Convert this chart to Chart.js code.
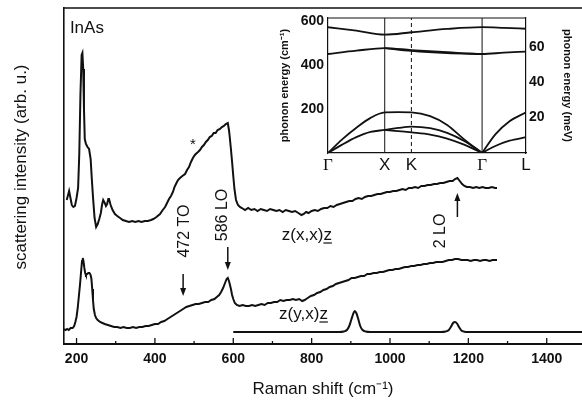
<!DOCTYPE html>
<html>
<head>
<meta charset="utf-8">
<script src="https://cdn.jsdelivr.net/npm/chart.js@4.4.1/dist/chart.umd.min.js"></script>
<style>
  html, body { margin: 0; padding: 0; background: #fff; }
  #wrap { position: relative; width: 582px; height: 403px; overflow: hidden; }
  #wrap canvas { position: absolute; left: 0; top: 0; }
</style>
</head>
<body>
<div id="wrap">
  <canvas id="spectra" width="582" height="403"></canvas>
  <canvas id="dispersion" width="582" height="403"></canvas>
</div>
<script>
// z(x,x)z spectrum (upper trace)
const xxShift = [175, 179, 181, 184, 188, 192, 196, 200, 204, 207, 210, 213, 215, 217, 219, 221, 224, 228, 232, 236,
  239, 242, 246, 250, 254, 258, 262, 265, 268, 272, 275, 278, 281, 283, 287, 292, 298, 304, 311, 318,
  326, 334, 342, 350, 358, 366, 374, 382, 390, 396, 404, 413, 420, 426, 431, 436, 441, 446, 450, 455,
  459, 464, 470, 477, 482, 487, 492, 497, 502, 507, 510, 515, 520, 525, 530, 535, 540, 545, 550, 555,
  560, 566, 571, 576, 581, 586, 589, 591, 594, 597, 600, 603, 607, 612, 617, 622, 630, 638, 646, 654,
  662, 670, 678, 686, 694, 702, 710, 718, 726, 734, 742, 750, 758, 766, 774, 780, 786, 792, 800, 808,
  816, 824, 832, 840, 848, 856, 864, 872, 880, 888, 896, 904, 912, 920, 928, 936, 944, 952, 960, 968,
  976, 984, 992, 1000, 1008, 1016, 1024, 1032, 1040, 1048, 1056, 1064, 1072, 1080, 1088, 1096, 1104, 1112, 1120, 1128,
  1136, 1144, 1152, 1160, 1166, 1172, 1178, 1184, 1190, 1196, 1204, 1212, 1220, 1228, 1236, 1244, 1252, 1260, 1268, 1273];
const xxIntensity = [144, 150, 153, 147, 139, 137, 138, 146, 156, 190, 250, 289, 291, 275, 235, 205, 200, 197, 195, 185,
  165, 147, 126, 117, 120, 125, 131, 139, 144, 141, 138, 140, 145, 145, 139, 134, 130, 128, 126, 124,
  123, 122, 123, 122, 123, 122, 123, 123, 124, 125, 127, 130, 134, 137, 141, 145, 148, 152, 157, 161,
  164, 166, 168, 170, 174, 177, 182, 186, 189, 191, 192, 194, 197, 199, 202, 204, 207, 208, 211, 211,
  214, 215, 217, 218, 220, 221, 214, 207, 195, 182, 168, 155, 144, 139, 137, 136, 134, 136, 134, 135,
  133, 135, 134, 133, 135, 134, 133, 134, 132, 134, 133, 132, 133, 131, 129, 130, 132, 131, 133, 134,
  133, 135, 136, 136, 138, 137, 139, 140, 141, 142, 143, 143, 145, 146, 145, 147, 148, 148, 149, 150,
  150, 151, 152, 152, 153, 153, 154, 155, 154, 156, 156, 157, 156, 158, 158, 159, 159, 160, 160, 161,
  161, 162, 163, 163, 165, 166, 163, 160, 158, 157, 157, 156, 157, 156, 157, 156, 156, 157, 156, 156];

// z(y,x)z spectrum (lower trace)
const yxShift = [168, 172, 176, 180, 185, 190, 194, 197, 200, 203, 206, 209, 212, 214, 216, 218, 220, 222, 224, 227,
  230, 233, 236, 238, 240, 242, 244, 247, 250, 254, 260, 266, 272, 280, 288, 296, 304, 312, 320, 328,
  336, 344, 352, 360, 368, 376, 384, 392, 400, 408, 416, 424, 432, 440, 448, 456, 464, 472, 480, 488,
  496, 504, 512, 520, 528, 536, 544, 552, 558, 564, 569, 574, 579, 583, 586, 589, 591, 594, 597, 600,
  604, 609, 616, 624, 632, 640, 648, 656, 664, 672, 680, 688, 696, 704, 712, 720, 728, 736, 744, 752,
  760, 768, 776, 782, 790, 798, 806, 814, 822, 830, 838, 846, 854, 862, 870, 878, 886, 894, 902, 910,
  918, 926, 934, 942, 950, 958, 966, 974, 982, 990, 998, 1006, 1014, 1022, 1030, 1038, 1046, 1054, 1062, 1070,
  1078, 1086, 1094, 1102, 1110, 1118, 1126, 1134, 1142, 1150, 1158, 1166, 1174, 1182, 1190, 1198, 1206, 1214, 1222, 1230,
  1238, 1246, 1254, 1262, 1270, 1273];
const yxIntensity = [15, 14, 15, 14, 16, 16, 18, 22, 27, 36, 48, 60, 74, 83, 86, 82, 76, 71, 69, 70,
  71, 71, 69, 65, 55, 44, 35, 29, 26, 24, 22, 21, 20, 19, 18, 17, 17, 16, 17, 16,
  16, 17, 16, 17, 17, 18, 18, 19, 20, 20, 22, 23, 25, 27, 29, 31, 33, 35, 37, 38,
  39, 40, 40, 41, 42, 42, 44, 45, 47, 49, 52, 56, 61, 65, 66, 63, 60, 55, 49, 45,
  41, 39, 38, 39, 38, 38, 39, 38, 39, 40, 39, 41, 41, 42, 42, 44, 43, 44, 44, 45,
  44, 45, 43, 44, 46, 48, 49, 51, 52, 54, 55, 57, 58, 60, 61, 62, 63, 64, 66, 66,
  67, 68, 68, 70, 70, 71, 71, 72, 72, 73, 74, 74, 75, 75, 76, 77, 77, 78, 78, 79,
  79, 80, 80, 81, 81, 82, 82, 82, 83, 84, 84, 85, 85, 84, 84, 84, 83, 84, 84, 83,
  84, 84, 83, 84, 84, 84];

// smooth (calculated) trace, 600 cm-1 upward
const calcShift = [600, 870, 882, 890, 896, 901, 906, 910, 914, 919, 924, 930, 938, 950,
  1130, 1142, 1150, 1156, 1161, 1166, 1171, 1176, 1182, 1190, 1200, 1490];
const calcIntensity = [12, 12, 12.5, 14, 18, 24, 30, 33, 31, 25, 18, 14, 12.5, 12,
  12, 12.5, 14, 17.5, 21, 22, 20.5, 17, 13.5, 12.3, 12, 12];

const shiftTicks = [200, 400, 600, 800, 1000, 1200, 1400];
const shiftMinor = [300, 500, 700, 900, 1100, 1300];

// inset: phonon dispersion along G-X-K-G-L
const pathTicks = [0, 1, 1.47, 2.716, 3.49];
const pathLabels = ['Γ', 'X', 'K', 'Γ', 'L'];
const symmetryLines = [1, 1.47, 2.716];
const energyTicks = [200, 400, 600];
const meVTicks = [20, 40, 60];
const CM_PER_MEV = 8.0655;

const loQ = [0, 0.5, 1, 1.47, 2.1, 2.716, 3.1, 3.49];
const loE = [573, 557, 539, 550, 565, 573, 570, 566];
const toQ = [0, 0.5, 1, 1.47, 2.1, 2.716, 3.1, 3.49];
const toE = [451, 466, 478, 469, 459, 451, 457, 462];
const to2Q = [1, 1.47, 2.1, 2.716];
const to2E = [478, 465, 455, 451];
const laQ = [0, 0.25, 0.5, 0.75, 1, 1.24, 1.47, 1.8, 2.1, 2.4, 2.716];
const laE = [0, 62, 115, 160, 185, 186, 185, 168, 128, 62, 0];
const taQ = [0, 0.25, 0.5, 0.75, 1, 1.24, 1.47, 1.8, 2.1, 2.4, 2.716];
const taE = [0, 38, 72, 96, 105, 114, 120, 113, 92, 55, 0];
const ta2Q = [1, 1.24, 1.47, 1.8, 2.1, 2.4, 2.716];
const ta2E = [105, 100, 94, 84, 66, 38, 0];
const laLQ = [2.716, 2.95, 3.2, 3.49];
const laLE = [0, 85, 145, 185];
const taLQ = [2.716, 2.95, 3.2, 3.49];
const taLE = [0, 32, 56, 72];

const INK = '#111';
const FONT = '"Liberation Sans", Arial, sans-serif';

const pts = (xs, ys) => xs.map((x, i) => ({ x, y: ys[i] }));

// labels and arrows of the main panel, placed in data units
const spectrumNotes = [
  { text: 'InAs', w: 183, v: 311, size: 17 },
  { text: '*', w: 497, v: 195, size: 15 },
  { text: '472 TO', w: 477, v: 113, size: 16, rotate: true },
  { text: '586 LO', w: 572, v: 129, size: 16, rotate: true },
  { text: '2 LO', w: 1130, v: 113, size: 16, rotate: true },
  { text: 'z(x,x)z', w: 724, v: 104, size: 17, underline: true },
  { text: 'z(y,x)z', w: 717, v: 25, size: 17, underline: true },
];
const spectrumArrows = [
  { w: 472, from: 70, to: 48 },
  { w: 586, from: 97, to: 74 },
  { w: 1172, from: 127, to: 151 },
];

const spectrumDecor = {
  id: 'spectrumDecor',
  afterDraw(chart) {
    const { ctx, chartArea: a, scales: { x, y } } = chart;
    ctx.save();
    ctx.strokeStyle = INK;
    ctx.fillStyle = INK;

    ctx.lineWidth = 1.5;
    ctx.beginPath();
    ctx.moveTo(a.left, a.top);
    ctx.lineTo(a.right, a.top);
    ctx.stroke();

    // ticks point into the plot
    ctx.lineWidth = 1.3;
    shiftTicks.forEach((t) => {
      const p = x.getPixelForValue(t);
      ctx.beginPath();
      ctx.moveTo(p, a.bottom);
      ctx.lineTo(p, a.bottom - 6);
      ctx.stroke();
    });
    shiftMinor.forEach((t) => {
      const p = x.getPixelForValue(t);
      ctx.beginPath();
      ctx.moveTo(p, a.bottom);
      ctx.lineTo(p, a.bottom - 3);
      ctx.stroke();
    });

    ctx.save();
    ctx.translate(21, (a.top + a.bottom) / 2 - 9);
    ctx.rotate(-Math.PI / 2);
    ctx.font = `17px ${FONT}`;
    ctx.textAlign = 'center';
    ctx.textBaseline = 'middle';
    ctx.fillText('scattering intensity (arb. u.)', 0, 0);
    ctx.restore();

    spectrumNotes.forEach((n) => {
      const px = x.getPixelForValue(n.w);
      const py = y.getPixelForValue(n.v);
      ctx.font = `${n.size}px ${FONT}`;
      if (n.rotate) {
        ctx.save();
        ctx.translate(px, py);
        ctx.rotate(-Math.PI / 2);
        ctx.textAlign = 'center';
        ctx.textBaseline = 'middle';
        ctx.fillText(n.text, 0, 0);
        ctx.restore();
        return;
      }
      ctx.textAlign = n.text === '*' ? 'center' : 'left';
      ctx.textBaseline = 'alphabetic';
      ctx.fillText(n.text, px, py);
      if (n.underline) {
        const full = ctx.measureText(n.text).width;
        const last = ctx.measureText(n.text.slice(-1)).width;
        ctx.lineWidth = 1.2;
        ctx.beginPath();
        ctx.moveTo(px + full - last, py + 3);
        ctx.lineTo(px + full, py + 3);
        ctx.stroke();
      }
    });

    ctx.lineWidth = 1.5;
    spectrumArrows.forEach((ar) => {
      const px = x.getPixelForValue(ar.w);
      const p0 = y.getPixelForValue(ar.from);
      const p1 = y.getPixelForValue(ar.to);
      const dir = Math.sign(p1 - p0);
      ctx.beginPath();
      ctx.moveTo(px, p0);
      ctx.lineTo(px, p1 - dir * 5);
      ctx.stroke();
      ctx.beginPath();
      ctx.moveTo(px, p1);
      ctx.lineTo(px - 3, p1 - dir * 8);
      ctx.lineTo(px + 3, p1 - dir * 8);
      ctx.closePath();
      ctx.fill();
    });
    ctx.restore();
  },
};

new Chart(document.getElementById('spectra'), {
  type: 'line',
  data: {
    datasets: [
      { label: 'z(x,x)z', data: pts(xxShift, xxIntensity) },
      { label: 'z(y,x)z', data: pts(yxShift, yxIntensity) },
      { label: 'calc', data: pts(calcShift, calcIntensity), cubicInterpolationMode: 'monotone' },
    ],
  },
  options: {
    responsive: false,
    animation: false,
    devicePixelRatio: 1,
    layout: { padding: { top: 8, left: 0, right: 0, bottom: 0 } },
    plugins: { legend: { display: false }, tooltip: { enabled: false } },
    elements: {
      point: { radius: 0 },
      line: { borderWidth: 2, borderColor: INK, tension: 0, fill: false },
    },
    scales: {
      x: {
        type: 'linear',
        min: 168,
        max: 1490,
        afterBuildTicks: (s) => { s.ticks = shiftTicks.map((value) => ({ value })); },
        afterFit: (s) => { s.height = 59; },
        grid: { display: false, drawTicks: false },
        border: { display: true, color: INK, width: 2 },
        ticks: {
          color: INK,
          padding: 7,
          maxRotation: 0,
          autoSkip: false,
          font: { family: FONT, size: 14, weight: 'bold' },
          callback: (v) => String(v),
        },
        title: {
          display: true,
          text: 'Raman shift (cm⁻¹)',
          color: INK,
          font: { family: FONT, size: 17 },
          padding: { top: 0, bottom: 3 },
        },
      },
      y: {
        min: 0,
        max: 336,
        afterFit: (s) => { s.width = 64; },
        grid: { display: false, drawTicks: false },
        ticks: { display: false },
        border: { display: true, color: INK, width: 1.6 },
      },
    },
  },
  plugins: [spectrumDecor],
});

const insetFrame = {
  id: 'insetFrame',
  afterDraw(chart) {
    const { ctx, chartArea: a } = chart;
    ctx.save();
    ctx.strokeStyle = INK;
    ctx.lineWidth = 1.2;
    ctx.beginPath();
    ctx.moveTo(a.left, a.top);
    ctx.lineTo(a.right, a.top);
    ctx.stroke();
    ctx.restore();
  },
};

const branches = [
  [loQ, loE], [toQ, toE], [to2Q, to2E], [laQ, laE], [taQ, taE], [ta2Q, ta2E], [laLQ, laLE], [taLQ, taLE],
];

new Chart(document.getElementById('dispersion'), {
  type: 'line',
  data: {
    datasets: [
      ...branches.map(([q, e]) => ({
        data: pts(q, e),
        borderWidth: 1.8,
        cubicInterpolationMode: 'monotone',
      })),
      ...symmetryLines.map((q, i) => ({
        data: [{ x: q, y: 0 }, { x: q, y: 615 }],
        borderWidth: 1,
        borderDash: i === 1 ? [4, 3] : [],
      })),
    ],
  },
  options: {
    responsive: false,
    animation: false,
    devicePixelRatio: 1,
    layout: { padding: { top: 18, left: 0, right: 0, bottom: 0 } },
    plugins: { legend: { display: false }, tooltip: { enabled: false } },
    elements: {
      point: { radius: 0 },
      line: { borderColor: INK, fill: false },
    },
    scales: {
      x: {
        type: 'linear',
        min: 0,
        max: 3.49,
        afterBuildTicks: (s) => { s.ticks = pathTicks.map((value) => ({ value })); },
        afterFit: (s) => { s.height = 250; },
        grid: { display: false, drawTicks: false },
        border: { display: true, color: INK, width: 1.2 },
        ticks: {
          color: INK,
          padding: 2,
          maxRotation: 0,
          autoSkip: false,
          font: (c) => ({
            family: pathLabels[c.index] === 'Γ' ? '"Liberation Serif", serif' : FONT,
            size: 17,
          }),
          callback: (v, i) => pathLabels[i],
        },
      },
      y: {
        min: 0,
        max: 615,
        afterBuildTicks: (s) => { s.ticks = energyTicks.map((value) => ({ value })); },
        afterFit: (s) => { s.width = 328; },
        grid: { display: false, drawTicks: false },
        border: { display: true, color: INK, width: 1.2 },
        ticks: { color: INK, padding: 4, font: { family: FONT, size: 14, weight: 'bold' } },
        title: {
          display: true,
          text: 'phonon energy (cm⁻¹)',
          color: INK,
          font: { family: FONT, size: 11, weight: 'bold' },
          padding: { top: 278, bottom: 0 },
        },
      },
      y2: {
        type: 'linear',
        position: 'right',
        min: 0,
        max: 615 / CM_PER_MEV,
        afterBuildTicks: (s) => { s.ticks = meVTicks.map((value) => ({ value })); },
        afterFit: (s) => { s.width = 56; },
        grid: { display: false, drawTicks: false },
        border: { display: true, color: INK, width: 1.2 },
        ticks: { color: INK, padding: 3, font: { family: FONT, size: 14, weight: 'bold' } },
        title: {
          display: true,
          text: 'phonon energy (meV)',
          color: INK,
          font: { family: FONT, size: 11, weight: 'bold' },
          padding: { top: 8, bottom: 0 },
        },
      },
    },
  },
  plugins: [insetFrame],
});
</script>
</body>
</html>
